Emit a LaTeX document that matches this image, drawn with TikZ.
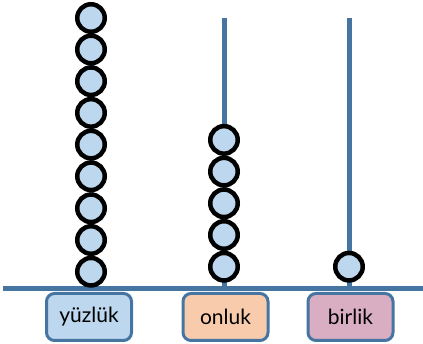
\documentclass[tikz,border=0pt]{standalone}
\usepackage{fontspec}
\setmainfont{Lato}
\definecolor{rodblue}{HTML}{4675A2}
\definecolor{beadfill}{HTML}{BDD7EE}
\definecolor{boxblue}{HTML}{BDD7EE}
\definecolor{boxorange}{HTML}{F8CBAD}
\definecolor{boxpink}{HTML}{D9AEC2}
\begin{document}
\begin{tikzpicture}[x=1pt,y=-1pt,
  rod/.style={draw=rodblue,line width=5pt},
  bead/.style={circle,draw=black,line width=4.5pt,fill=beadfill,minimum size=27.5pt,inner sep=0pt},
  labelbox/.style={draw=rodblue,line width=3pt,rounded corners=8pt,minimum width=85pt,minimum height=47pt,inner sep=0pt,font=\fontsize{21}{24}\selectfont}]
\useasboundingbox (0,0) rectangle (423,344);
\coordinate (bl) at (3,289);
\coordinate (br) at (423,289);
\draw[rod] (bl) -- (br);
\coordinate (h0) at (91,289); \coordinate (h1) at (91,18);
\coordinate (t0) at (224,289); \coordinate (t1) at (224,18);
\coordinate (o0) at (349,289); \coordinate (o1) at (349,18);
\draw[rod] (h0) -- (h1);
\draw[rod] (t0) -- (t1);
\draw[rod] (o0) -- (o1);
\foreach \i/\y in {1/271.7,2/240,3/208.3,4/176.3,5/144.6,6/112.9,7/81.2,8/49.5,9/18}
  \node[bead] (hb\i) at (91,\y) {};
\foreach \i/\y in {1/266.7,2/235,3/203.3,4/171.6,5/139.9}
  \node[bead] (tb\i) at (224,\y) {};
\node[bead] (ob1) at (349,266.7) {};
\node[labelbox,fill=boxblue] (lh) at (89,317) {yüzlük};
\node[labelbox,fill=boxorange] (lt) at (225.5,317) {onluk};
\node[labelbox,fill=boxpink] (lo) at (350.5,317) {birlik};
\end{tikzpicture}
\end{document}
